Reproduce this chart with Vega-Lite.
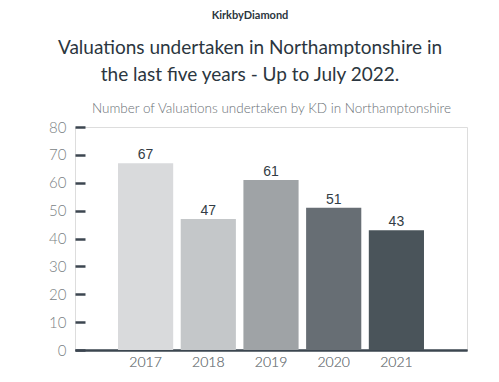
{
  "$schema": "https://vega.github.io/schema/vega-lite/v6.json",
  "width": 392,
  "height": 223,
  "autosize": {"type": "none"},
  "padding": {"left": 75, "top": 127, "right": 32, "bottom": 32},
  "background": "white",
  "title": {
    "text": "KirkbyDiamond",
    "subtitle": ["Valuations undertaken in Northamptonshire in", "the last five years - Up to July 2022."],
    "anchor": "middle",
    "frame": "group",
    "dx": -21,
    "font": "Lato",
    "fontSize": 11,
    "fontWeight": "bold",
    "color": "#2b3640",
    "subtitleFont": "Lato",
    "subtitleFontSize": 19,
    "subtitleColor": "#2b3640",
    "subtitleLineHeight": 27,
    "subtitlePadding": 18,
    "offset": 16
  },
  "data": {
    "values": [
      {"year": "2017", "count": 67},
      {"year": "2018", "count": 47},
      {"year": "2019", "count": 61},
      {"year": "2020", "count": 51},
      {"year": "2021", "count": 43}
    ]
  },
  "encoding": {
    "x": {
      "field": "year",
      "type": "nominal",
      "scale": {"paddingInner": 0.12, "paddingOuter": 0.686},
      "axis": {
        "orient": "bottom",
        "title": null,
        "labelAngle": 0,
        "ticks": false,
        "domainColor": "#3c4650",
        "domainWidth": 2,
        "labelColor": "#7a7f84",
        "labelFont": "Lato",
        "labelFontWeight": 300,
        "labelFontSize": 14,
        "labelPadding": 5
      }
    },
    "y": {
      "field": "count",
      "type": "quantitative",
      "scale": {"domain": [0, 80]},
      "axis": {
        "title": null,
        "values": [0, 10, 20, 30, 40, 50, 60, 70, 80],
        "domain": false,
        "grid": false,
        "tickSize": -10,
        "tickWidth": 2.5,
        "tickColor": "#3c4650",
        "labelColor": "#7a7f84",
        "labelFont": "Lato",
        "labelFontWeight": 300,
        "labelFontSize": 15,
        "labelPadding": 19
      }
    }
  },
  "layer": [
    {
      "mark": {"type": "bar"},
      "encoding": {
        "color": {
          "field": "year",
          "type": "nominal",
          "scale": {"range": ["#d9dadc", "#c4c7c9", "#9fa3a6", "#676e74", "#4a545a"]},
          "legend": null
        }
      }
    },
    {
      "mark": {"type": "text", "baseline": "bottom", "dy": -1, "font": "Liberation Sans", "fontSize": 14, "color": "#333d45"},
      "encoding": {
        "text": {"field": "count", "type": "quantitative"}
      }
    },
    {
      "mark": {"type": "text", "opacity": 0},
      "encoding": {
        "text": {"field": "count", "type": "quantitative"},
        "x": {
          "field": "year",
          "type": "nominal",
          "axis": {
            "orient": "top",
            "title": "Number of Valuations undertaken by KD in Northamptonshire",
            "labels": false,
            "ticks": false,
            "domain": false,
            "titleFont": "Lato",
            "titleFontWeight": 300,
            "titleFontSize": 13.5,
            "titleColor": "#6a7075",
            "titlePadding": 12
          }
        }
      }
    }
  ]
}
